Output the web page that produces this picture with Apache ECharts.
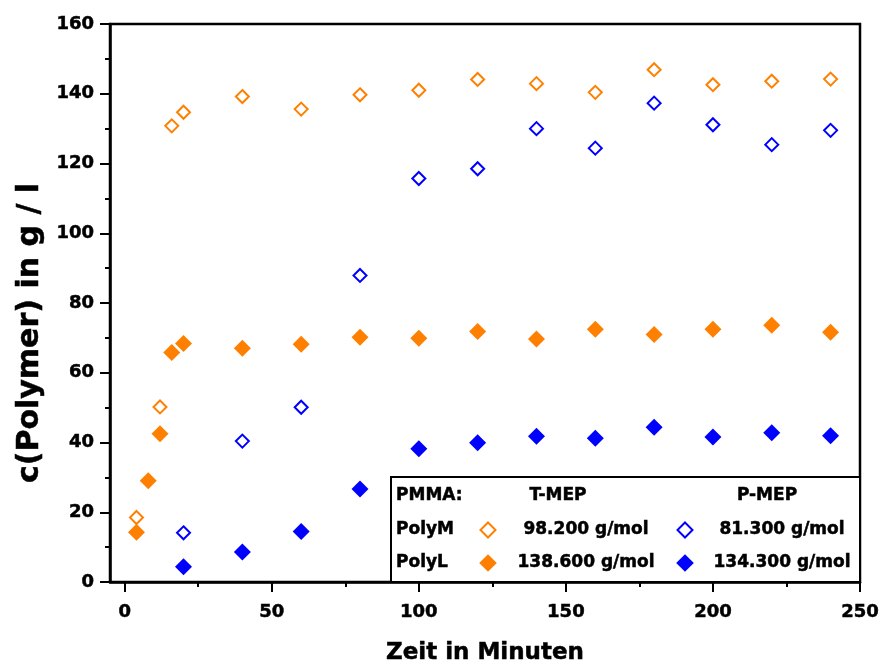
<!DOCTYPE html>
<html>
<head>
<meta charset="utf-8">
<script src="https://cdn.jsdelivr.net/npm/echarts@6/dist/echarts.min.js"></script>
<style>
  html, body { margin: 0; padding: 0; background: #fff; }
  #chart { width: 882px; height: 666px; }
</style>
</head>
<body>
<div id="chart"></div>
<script>
// Polymer concentration over time: two PMMA grades (PolyM, PolyL) with T-MEP and P-MEP
const timesTM = [4, 12, 16, 20, 40, 60, 80, 100, 120, 140, 160, 180, 200, 220, 240];
const polyM_TMEP = [18.5, 50.2, 130.8, 134.7, 139.2, 135.6, 139.7, 141.0, 144.1, 142.9, 140.4, 146.9, 142.6, 143.6, 144.2];

const timesPM = [20, 40, 60, 80, 100, 120, 140, 160, 180, 200, 220, 240];
const polyM_PMEP = [14.1, 40.4, 50.1, 87.9, 115.7, 118.5, 130.0, 124.4, 137.3, 131.1, 125.4, 129.5];

const timesTL = [4, 8, 12, 16, 20, 40, 60, 80, 100, 120, 140, 160, 180, 200, 220, 240];
const polyL_TMEP = [14.3, 29.0, 42.5, 65.8, 68.4, 67.0, 68.2, 70.2, 69.9, 71.8, 69.7, 72.5, 71.0, 72.5, 73.6, 71.6];

const timesPL = [20, 40, 60, 80, 100, 120, 140, 160, 180, 200, 220, 240];
const polyL_PMEP = [4.4, 8.6, 14.5, 26.7, 38.2, 39.9, 41.8, 41.2, 44.4, 41.6, 42.8, 41.9];

const xMajorTicks = [0, 50, 100, 150, 200, 250];
const xMinorTicks = [25, 75, 125, 175, 225];

const yTitle = 'c(Polymer) in g / l';
const xTitle = 'Zeit in Minuten';

const legendHeader = ['PMMA:', 'T-MEP', 'P-MEP'];
const legendRows = [
  ['PolyM', '98.200 g/mol', '81.300 g/mol'],
  ['PolyL', '138.600 g/mol', '134.300 g/mol']
];

const ORANGE = '#FF8000';
const BLUE = '#0000FF';
const FONT = '"DejaVu Sans", sans-serif';

const pairs = (xs, ys) => xs.map((x, i) => [x, ys[i]]);

function hollow(name, xs, ys, color) {
  return {
    name, type: 'scatter', xAxisIndex: 0, yAxisIndex: 0,
    symbol: 'diamond', symbolSize: 13,
    itemStyle: { color: '#fff', borderColor: color, borderWidth: 2, opacity: 1 },
    data: pairs(xs, ys), z: 3
  };
}
function filled(name, xs, ys, color) {
  return {
    name, type: 'scatter', xAxisIndex: 0, yAxisIndex: 0,
    symbol: 'diamond', symbolSize: 17,
    itemStyle: { color, opacity: 1 },
    data: pairs(xs, ys), z: 3
  };
}

const chart = echarts.init(document.getElementById('chart'), null, { renderer: 'canvas' });

// slightly heavier than plain bold
const axisText = { color: '#000', fontFamily: FONT, fontWeight: 'bold', fontSize: 18,
                   textBorderColor: '#000', textBorderWidth: 0.5 };
const legendText = { fill: '#000', fontFamily: FONT, fontWeight: 'bold', fontSize: 17,
                     stroke: '#000', lineWidth: 0.5 };

// Legend table drawn as graphic elements
const colX = { label: 396, sym1: 488, val1: 586, sym2: 685, val2: 782 };
const rowY = [496, 530, 563];
const legendGraphics = [
  { type: 'rect', shape: { x: 391, y: 477, width: 469, height: 105 },
    style: { fill: '#fff', stroke: '#000', lineWidth: 2 }, z: 10 },
  { type: 'text', x: colX.label, y: rowY[0], z: 11,
    style: Object.assign({ text: legendHeader[0], align: 'left', verticalAlign: 'middle' }, legendText) },
  { type: 'text', x: 558, y: rowY[0], z: 11,
    style: Object.assign({ text: legendHeader[1], align: 'center', verticalAlign: 'middle' }, legendText) },
  { type: 'text', x: 767, y: rowY[0], z: 11,
    style: Object.assign({ text: legendHeader[2], align: 'center', verticalAlign: 'middle' }, legendText) }
];
legendRows.forEach((row, i) => {
  const y = rowY[i + 1];
  const isHollow = i === 0;
  legendGraphics.push(
    { type: 'text', x: colX.label, y, z: 11,
      style: Object.assign({ text: row[0], align: 'left', verticalAlign: 'middle' }, legendText) },
    { type: 'text', x: colX.val1, y, z: 11,
      style: Object.assign({ text: row[1], align: 'center', verticalAlign: 'middle' }, legendText) },
    { type: 'text', x: colX.val2, y, z: 11,
      style: Object.assign({ text: row[2], align: 'center', verticalAlign: 'middle' }, legendText) }
  );
  [[colX.sym1, ORANGE], [colX.sym2, BLUE]].forEach(([cx, color]) => {
    const h = isHollow ? 7.5 : 8.8;
    legendGraphics.push({
      type: 'polygon', z: 11,
      shape: { points: [[cx, y - h], [cx + h, y], [cx, y + h], [cx - h, y]] },
      style: isHollow ? { fill: '#fff', stroke: color, lineWidth: 2 } : { fill: color }
    });
  });
});

// vertical axis title, set a little below the plot's middle
legendGraphics.push({
  type: 'text', x: 30, y: 333, rotation: Math.PI / 2, z: 11,
  style: { text: yTitle, align: 'center', verticalAlign: 'middle', fill: '#000',
           stroke: '#000', lineWidth: 0.5,
           fontFamily: FONT, fontWeight: 'bold', fontSize: 30 }
});

chart.setOption({
  animation: false,
  backgroundColor: '#fff',
  grid: {
    left: 110, right: 22, top: 24, bottom: 84,
    outerBoundsMode: 'none',
    show: true, borderColor: '#000', borderWidth: 2.5, backgroundColor: 'transparent'
  },
  xAxis: [
    {
      type: 'value', min: -5, max: 250,
      name: xTitle, nameLocation: 'middle', nameGap: 60,
      nameTextStyle: { color: '#000', fontFamily: FONT, fontWeight: 'bold', fontSize: 23,
                       textBorderColor: '#000', textBorderWidth: 0.5 },
      axisLine: { show: true, onZero: false, lineStyle: { color: '#000', width: 2.5 } },
      axisTick: { show: true, inside: false, length: 10, lineStyle: { color: '#000', width: 2 },
                  customValues: xMajorTicks },
      axisLabel: Object.assign({ margin: 21, customValues: xMajorTicks }, axisText),
      splitLine: { show: false }
    },
    {
      // minor ticks between the labelled ones
      type: 'value', min: -5, max: 250, position: 'bottom',
      axisLine: { show: false, onZero: false },
      axisTick: { show: true, inside: false, length: 5, lineStyle: { color: '#000', width: 2 },
                  customValues: xMinorTicks },
      axisLabel: { show: false },
      splitLine: { show: false }
    }
  ],
  yAxis: {
    type: 'value', min: 0, max: 160, interval: 20,
    axisLine: { show: true, onZero: false, lineStyle: { color: '#000', width: 2.5 } },
    axisTick: { show: true, inside: false, length: 10, lineStyle: { color: '#000', width: 2 } },
    minorTick: { show: true, splitNumber: 2, length: 5, lineStyle: { color: '#000', width: 2 } },
    axisLabel: Object.assign({ margin: 16 }, axisText),
    splitLine: { show: false }
  },
  series: [
    hollow('PolyM T-MEP', timesTM, polyM_TMEP, ORANGE),
    hollow('PolyM P-MEP', timesPM, polyM_PMEP, BLUE),
    filled('PolyL T-MEP', timesTL, polyL_TMEP, ORANGE),
    filled('PolyL P-MEP', timesPL, polyL_PMEP, BLUE)
  ],
  graphic: legendGraphics
});
</script>
</body>
</html>
